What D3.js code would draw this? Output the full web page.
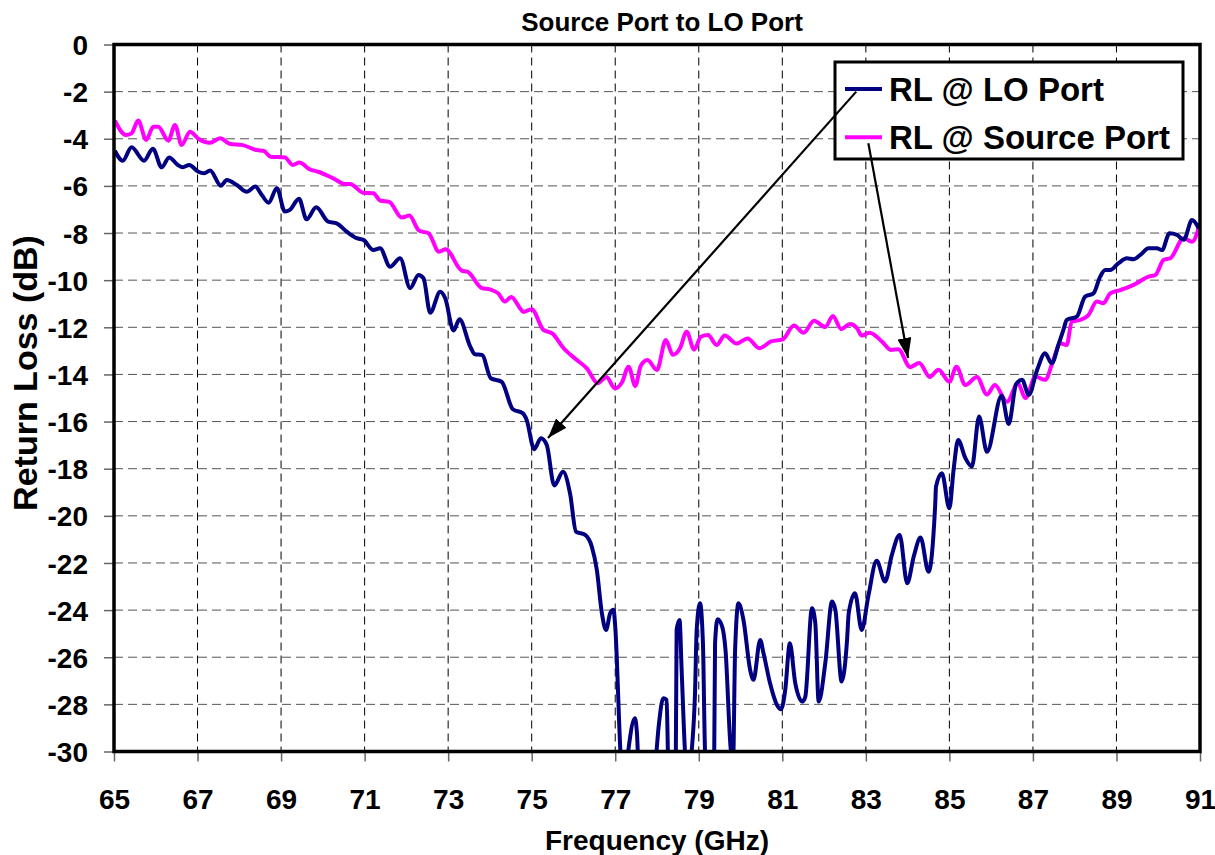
<!DOCTYPE html>
<html><head><meta charset="utf-8">
<script src="https://cdn.jsdelivr.net/npm/d3@7"></script>
<style>
body{margin:0;background:#fff;}
text{font-family:"Liberation Sans",Arial,sans-serif;font-weight:bold;fill:#000;}
</style></head>
<body><svg id="c" width="1215" height="855"></svg>
<script>
const title = "Source Port to LO Port";
const xTitle = "Frequency (GHz)";
const yTitle = "Return Loss (dB)";
const seriesNames = ["RL @ LO Port", "RL @ Source Port"];
const xTicks = [65,67,69,71,73,75,77,79,81,83,85,87,89,91];
const yTicks = [0,-2,-4,-6,-8,-10,-12,-14,-16,-18,-20,-22,-24,-26,-28,-30];

const freqLO = [65.02,65.21,65.42,65.72,65.93,66.14,66.32,66.52,66.65,66.80,67.02,67.16,67.30,67.56,67.70,67.94,68.18,68.38,68.54,68.70,68.90,69.09,69.21,69.43,69.61,69.84,70.13,70.33,70.57,70.81,70.97,71.21,71.37,71.61,71.85,72.09,72.29,72.41,72.57,72.81,72.93,73.13,73.27,73.53,73.64,73.81,74.02,74.28,74.55,74.79,74.88,75.06,75.22,75.36,75.54,75.75,75.92,76.06,76.28,76.44,76.56,76.68,76.78,76.88,76.96,77.00,77.14,77.22,77.32,77.47,77.52,77.56,77.75,77.95,78.04,78.15,78.23,78.27,78.36,78.45,78.47,78.54,78.59,78.67,78.75,78.83,78.91,78.95,79.03,79.10,79.15,79.25,79.37,79.39,79.45,79.56,79.64,79.76,79.82,79.87,79.95,80.07,80.23,80.31,80.47,80.55,80.71,80.87,80.97,81.07,81.18,81.31,81.48,81.55,81.71,81.79,81.87,82.03,82.19,82.27,82.42,82.55,82.59,82.74,82.90,83.06,83.26,83.46,83.62,83.81,83.99,84.15,84.31,84.50,84.66,84.68,84.82,85.00,85.10,85.21,85.38,85.54,85.71,85.90,86.25,86.42,86.60,86.74,86.90,87.10,87.29,87.45,87.61,87.73,87.81,88.05,88.25,88.45,88.61,88.73,88.85,89.05,89.25,89.41,89.57,89.77,89.97,90.09,90.27,90.45,90.61,90.81,90.97];
const rlLO = [-4.51,-4.93,-4.36,-4.93,-4.42,-5.21,-4.79,-5.10,-5.21,-5.11,-5.40,-5.46,-5.35,-5.99,-5.75,-5.96,-6.25,-6.03,-6.39,-6.71,-6.10,-7.09,-7.02,-6.55,-7.42,-6.91,-7.52,-7.59,-7.94,-8.22,-8.29,-8.72,-8.65,-9.43,-9.07,-10.34,-9.78,-9.92,-11.38,-10.49,-10.77,-12.14,-11.66,-12.82,-13.14,-13.17,-14.16,-14.31,-15.48,-15.65,-15.93,-17.17,-16.71,-16.99,-18.71,-18.13,-19.07,-20.67,-20.81,-21.31,-22.30,-24.13,-24.84,-24.13,-23.99,-24.70,-30.5,-31.5,-29.86,-28.59,-29.22,-30.8,-33.0,-30.8,-28.94,-27.74,-27.81,-30.5,-31.5,-30.2,-24.84,-24.42,-26.54,-30.0,-31.5,-30.0,-27.53,-24.84,-23.71,-25.41,-30.0,-32.0,-30.0,-25.41,-24.39,-24.70,-25.69,-29.79,-30.6,-25.69,-23.71,-24.42,-26.54,-26.96,-25.27,-25.83,-27.13,-28.02,-28.21,-27.39,-25.41,-27.10,-27.88,-27.68,-23.92,-24.56,-27.88,-26.24,-23.64,-23.99,-27.03,-25.27,-24.13,-23.28,-24.84,-23.40,-21.91,-22.79,-21.68,-20.81,-22.86,-21.70,-20.92,-22.37,-19.54,-18.76,-18.19,-19.68,-18.05,-16.78,-17.54,-17.91,-15.79,-17.28,-14.90,-16.10,-14.40,-14.23,-14.87,-13.81,-13.10,-13.53,-12.75,-12.11,-11.69,-11.55,-10.70,-10.56,-9.85,-9.57,-9.57,-9.28,-9.07,-9.11,-8.93,-8.65,-8.65,-8.72,-8.01,-8.08,-8.29,-7.45,-7.80];

const freqSrc = [65.02,65.29,65.42,65.58,65.77,65.94,66.06,66.30,66.46,66.62,66.82,67.02,67.30,67.54,67.78,68.06,68.42,68.58,68.75,69.09,69.28,69.44,69.69,69.89,70.25,70.53,70.65,70.97,71.21,71.37,71.59,71.89,72.07,72.30,72.53,72.78,72.94,73.33,73.46,73.81,74.00,74.20,74.36,74.51,74.72,74.80,75.00,75.28,75.50,75.76,76.06,76.32,76.58,76.79,76.99,77.16,77.32,77.48,77.61,77.77,78.00,78.21,78.38,78.55,78.71,78.89,79.05,79.22,79.43,79.62,79.91,80.17,80.45,80.73,81.01,81.28,81.51,81.76,82.03,82.21,82.41,82.62,82.79,82.90,83.09,83.40,83.60,83.78,84.06,84.28,84.53,84.74,85.00,85.17,85.38,85.66,85.90,86.09,86.38,86.64,86.82,87.06,87.29,87.49,87.65,87.81,87.93,88.13,88.33,88.53,88.69,88.85,89.09,89.41,89.77,89.93,90.13,90.29,90.61,90.81,91.00];
const rlSrc = [-3.23,-3.84,-3.77,-3.23,-4.05,-3.49,-3.49,-4.08,-3.42,-4.26,-3.70,-4.00,-4.17,-3.98,-4.22,-4.26,-4.48,-4.51,-4.76,-4.79,-5.11,-5.01,-5.30,-5.40,-5.68,-5.92,-5.92,-6.29,-6.31,-6.62,-6.68,-7.34,-7.26,-7.89,-8.01,-8.79,-8.69,-9.60,-9.64,-10.34,-10.39,-10.56,-10.91,-10.71,-11.19,-11.35,-11.23,-12.11,-12.27,-12.88,-13.36,-13.74,-14.37,-14.11,-14.59,-14.34,-13.67,-14.49,-13.64,-13.39,-13.81,-12.54,-13.17,-12.89,-12.19,-12.95,-12.40,-12.33,-12.75,-12.35,-12.69,-12.47,-12.89,-12.60,-12.51,-11.92,-12.23,-11.72,-11.99,-11.52,-12.08,-11.86,-12.04,-12.35,-12.23,-12.63,-12.96,-12.93,-13.69,-13.51,-14.11,-13.80,-14.31,-13.67,-14.45,-14.11,-14.85,-14.45,-15.16,-14.37,-15.01,-14.09,-14.23,-13.39,-12.68,-12.75,-11.76,-11.69,-11.48,-10.91,-10.98,-10.56,-10.42,-10.20,-9.85,-9.78,-9.14,-9.07,-8.22,-8.37,-7.59];

// annotation arrows: [fromFreq, fromRL, toFreq, toRL]
const arrowLO = [82.77,-2.0,75.39,-16.70];
const arrowSrc = [83.06,-4.19,84.01,-13.30];

const svg = d3.select("#c");
const L=114,R=1200,T=44.5,B=751.5;
const x = d3.scaleLinear().domain([65,91]).range([L,R]);
const y = d3.scaleLinear().domain([0,-30]).range([T,B]);

svg.append("rect").attr("width",1215).attr("height",855).attr("fill","#fff");

// grid
const g = svg.append("g");
g.selectAll(".vg").data(xTicks.slice(1,-1)).join("line")
 .attr("x1",d=>x(d)).attr("x2",d=>x(d)).attr("y1",T).attr("y2",B)
 .attr("stroke","#000").attr("stroke-width",1).attr("stroke-dasharray","8,5");
g.selectAll(".hg").data(yTicks.slice(1,-1)).join("line")
 .attr("y1",d=>y(d)).attr("y2",d=>y(d)).attr("x1",L).attr("x2",R)
 .attr("stroke","#555").attr("stroke-width",1).attr("stroke-dasharray","9,5");

// axes
const xa = svg.append("g").attr("transform",`translate(0,${B})`)
 .call(d3.axisBottom(x).tickValues(xTicks).tickSize(10).tickFormat(d=>String(d)));
xa.select(".domain").remove();
xa.selectAll("line").attr("stroke","#666").attr("stroke-width",1.5);
xa.selectAll("text").attr("y",57).attr("dy",0).style("font-size","28px").attr("font-family",null).attr("fill","#000");

const ya = svg.append("g").attr("transform",`translate(${L},0)`)
 .call(d3.axisLeft(y).tickValues(yTicks).tickSize(10).tickFormat(d=>String(d)));
ya.select(".domain").remove();
ya.selectAll("line").attr("stroke","#666").attr("stroke-width",1.5);
ya.selectAll("text").attr("x",-26).attr("dy","0.36em").style("font-size","28px").attr("font-family",null).attr("fill","#000").attr("text-anchor","end");

// clip
svg.append("defs").append("clipPath").attr("id","pc").append("rect")
 .attr("x",L).attr("y",T).attr("width",R-L).attr("height",B-T);

const line = d3.line().x(d=>x(d[0])).y(d=>y(d[1])).curve(d3.curveMonotoneX);
const dLO = freqLO.map((f,i)=>[f,rlLO[i]]);
const dSrc = freqSrc.map((f,i)=>[f,rlSrc[i]]);
const lg = svg.append("g").attr("clip-path","url(#pc)");
lg.append("path").attr("d",line(dSrc)).attr("fill","none").attr("stroke","#FF00FF").attr("stroke-width",4).attr("stroke-linejoin","round");
lg.append("path").attr("d",line(dLO)).attr("fill","none").attr("stroke","#000080").attr("stroke-width",4).attr("stroke-linejoin","round");

// frame
svg.append("rect").attr("x",L).attr("y",T).attr("width",R-L).attr("height",B-T)
 .attr("fill","none").attr("stroke","#000").attr("stroke-width",3.5);

// titles
svg.append("text").attr("x",662).attr("y",31).attr("text-anchor","middle").style("font-size","26px").text(title);
svg.append("text").attr("x",657).attr("y",850).attr("text-anchor","middle").style("font-size","28px").text(xTitle);
svg.append("text").attr("transform","translate(37,373) rotate(-90)").attr("text-anchor","middle").style("font-size","34px").text(yTitle);

// legend
svg.append("rect").attr("x",835).attr("y",62).attr("width",348).attr("height",97)
 .attr("fill","#fff").attr("stroke","#000").attr("stroke-width",3);
const legColors = ["#000080","#FF00FF"];
seriesNames.forEach((n,i)=>{
  const yy = 89 + i*48.3;
  svg.append("line").attr("x1",845).attr("x2",882).attr("y1",yy).attr("y2",yy).attr("stroke",legColors[i]).attr("stroke-width",4);
  svg.append("text").attr("x",889).attr("y",yy+11.5).style("font-size","33px").text(n);
});

// arrows
const defs = svg.select("defs");
defs.append("marker").attr("id","ah").attr("viewBox","0 0 20 14").attr("refX",20).attr("refY",7)
 .attr("markerWidth",20).attr("markerHeight",14).attr("markerUnits","userSpaceOnUse").attr("orient","auto")
 .append("path").attr("d","M0,0L20,7L0,14Z").attr("fill","#000");
[arrowLO,arrowSrc].forEach(a=>{
  svg.append("line").attr("x1",x(a[0])).attr("y1",y(a[1])).attr("x2",x(a[2])).attr("y2",y(a[3]))
   .attr("stroke","#000").attr("stroke-width",2.2).attr("marker-end","url(#ah)");
});
</script></body></html>
